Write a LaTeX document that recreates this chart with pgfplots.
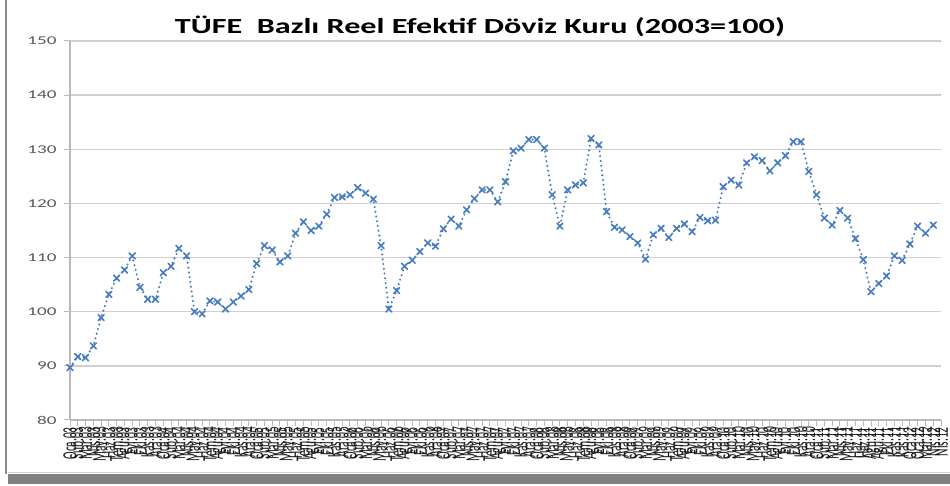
\documentclass[border=0pt]{standalone}
\usepackage{pgfplots}
\pgfplotsset{compat=1.18}
\usepackage{fontspec}
\setmainfont{Carlito}
\usepackage{graphicx}
\definecolor{serblue}{RGB}{72,124,192}
\definecolor{tickgray}{RGB}{89,89,89}
\definecolor{gridgray}{RGB}{208,208,208}
\definecolor{axgray}{RGB}{185,185,185}
\pgfplotstableread{
i v
0 89.7
1 91.7
2 91.5
3 93.7
4 98.9
5 103.2
6 106.2
7 107.7
8 110.3
9 104.5
10 102.3
11 102.3
12 107.2
13 108.4
14 111.7
15 110.3
16 100.0
17 99.6
18 102.0
19 101.8
20 100.5
21 101.8
22 102.9
23 104.1
24 108.9
25 112.2
26 111.4
27 109.2
28 110.3
29 114.5
30 116.6
31 115.0
32 115.8
33 118.0
34 121.1
35 121.2
36 121.6
37 122.9
38 121.9
39 120.8
40 112.2
41 100.5
42 103.9
43 108.4
44 109.5
45 111.1
46 112.7
47 112.1
48 115.3
49 117.1
50 115.8
51 118.8
52 120.9
53 122.5
54 122.5
55 120.3
56 124.0
57 129.7
58 130.2
59 131.8
60 131.8
61 130.2
62 121.6
63 115.8
64 122.5
65 123.4
66 123.8
67 132.0
68 130.8
69 118.5
70 115.6
71 115.1
72 113.9
73 112.7
74 109.7
75 114.2
76 115.4
77 113.7
78 115.4
79 116.2
80 114.8
81 117.4
82 116.8
83 116.9
84 123.1
85 124.3
86 123.4
87 127.5
88 128.6
89 127.9
90 126.0
91 127.5
92 128.8
93 131.4
94 131.4
95 125.9
96 121.6
97 117.3
98 116.0
99 118.7
100 117.3
101 113.5
102 109.6
103 103.7
104 105.2
105 106.6
106 110.3
107 109.5
108 112.5
109 115.8
110 114.5
111 116.0
}\reer
\begin{document}
\begin{tikzpicture}
\useasboundingbox (0bp,0bp) rectangle (950bp,486bp);
\fill[white] (0bp,0bp) rectangle (950bp,486bp);
\fill[black!50] (8bp,2bp) rectangle (950bp,12bp);
\draw[black!20, line width=1bp] (8bp,13bp) -- (950bp,13bp);
\draw[black!45, line width=2.5bp] (6bp,12bp) -- (6bp,486bp);
\begin{axis}[at={(70bp,66bp)}, anchor=south west, scale only axis,
  width=871bp, height=379bp,
  xmin=0, xmax=112, ymin=80, ymax=150,
  axis x line*=bottom, axis y line*=left,
  axis line style={axgray, line width=1.5bp},
  xtick={0,...,112}, ytick={80,90,...,150},
  ymajorgrids, major grid style={gridgray, line width=1.4bp},
  tick align=outside, major tick length=6bp,
  tick style={axgray, line width=1bp},
  yticklabel={\pgfmathtruncatemacro\vv{\tick}\scalebox{1.6}[1]{\vv}},
  yticklabel style={font=\fontsize{12}{14}\selectfont, text=tickgray, anchor=east, xshift=-4bp},
  xticklabel={\pgfmathtruncatemacro\tn{\tick}\pgfmathtruncatemacro\mm{mod(\tn,12)}\pgfmathtruncatemacro\yy{3+floor(\tn/12)}\scalebox{1}[1.75]{\ifcase\mm Oca\or Şub\or Mar\or Nis\or May\or Haz\or Tem\or Ağu\or Eyl\or Eki\or Kas\or Ara\fi.\ifnum\yy<10 0\fi\yy}},
  xticklabel style={font=\fontsize{11.5}{12}\selectfont, text=black!90, rotate=90, anchor=east, inner sep=1bp, yshift=0bp, xshift=0bp},
  clip=false
]
\addplot[serblue, line width=2.3bp, line cap=round, dash pattern=on 0bp off 4.8bp,
  mark=x, mark size=4.2bp, mark options={solid, line width=1.6bp}] table[x=i, y=v] {\reer};
\end{axis}
\node[anchor=base, text=black] at (480bp,452bp) {\resizebox{610bp}{\height}{\fontsize{21.6}{26}\selectfont\bfseries TÜFE~ Bazlı Reel Efektif Döviz Kuru (2003=100)}};
\end{tikzpicture}
\end{document}
